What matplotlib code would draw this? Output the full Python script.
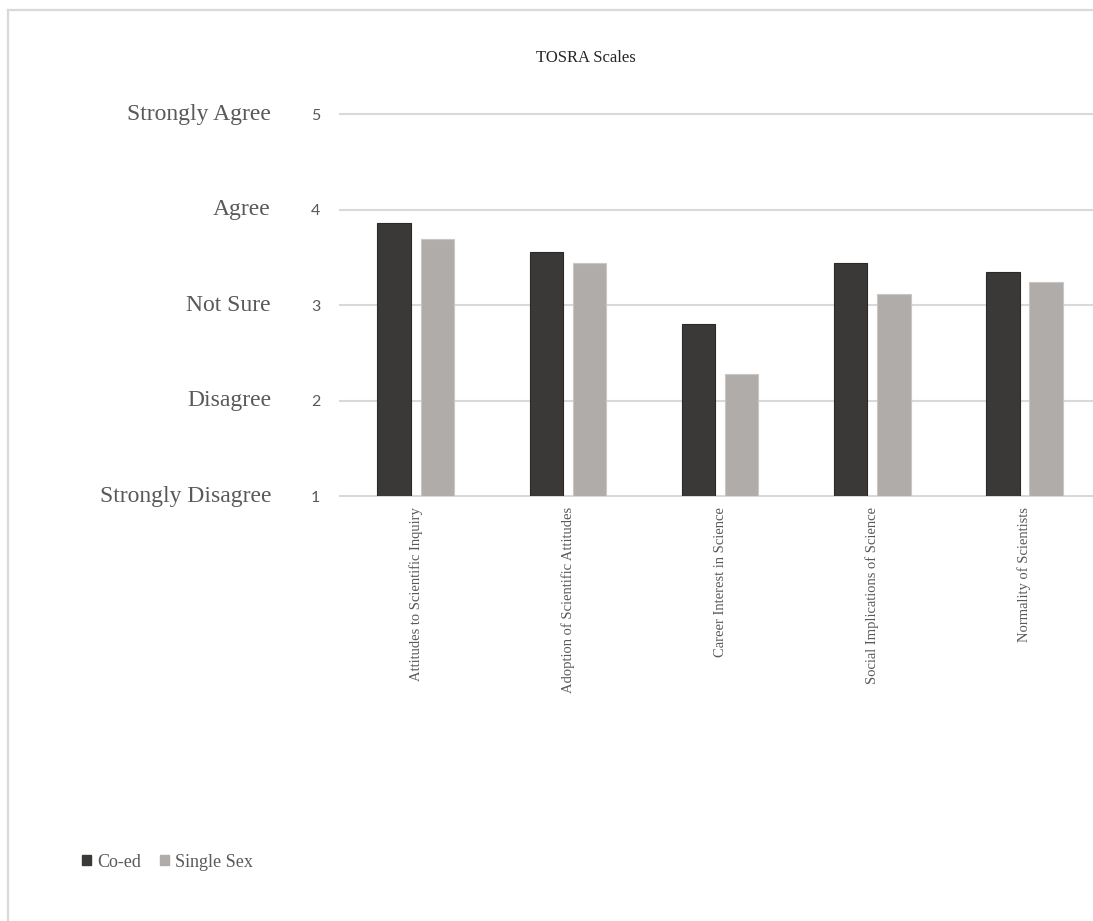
import matplotlib
matplotlib.use("Agg")
import matplotlib.pyplot as plt
import numpy as np
from matplotlib.patches import Rectangle
from matplotlib.lines import Line2D

# TOSRA scale means by school type
scales = [
    "Attitudes to Scientific Inquiry",
    "Adoption of Scientific Attitudes",
    "Career Interest in Science",
    "Social Implications of Science",
    "Normality of Scientists",
]
coed = [3.86, 3.56, 2.80, 3.44, 3.35]
single_sex = [3.69, 3.44, 2.28, 3.11, 3.24]
series_names = ["Co-ed", "Single Sex"]

y_ticks = [1, 2, 3, 4, 5]
y_labels = ["Strongly Disagree", "Disagree", "Not Sure", "Agree", "Strongly Agree"]

COED_COLOR = "#3a3937"
SINGLE_COLOR = "#afacaa"
TEXT_GRAY = "#595959"
GRID_GRAY = "#d9d9d9"
SERIF = "Liberation Serif"

W, H = 1093, 921
fig = plt.figure(figsize=(W / 100, H / 100), dpi=100)

# chart-area frame (top and left edges visible)
fig.add_artist(Line2D([8 / W, 8 / W], [0, 1 - 10 / H], color=GRID_GRAY, lw=1.6,
                      transform=fig.transFigure))
fig.add_artist(Line2D([8 / W, 1], [1 - 10 / H, 1 - 10 / H], color=GRID_GRAY, lw=1.6,
                      transform=fig.transFigure))

left_px, right_px = 339.7, 1100.6
bottom_px, top_px = 496, 114
ax = fig.add_axes([left_px / W, 1 - bottom_px / H,
                   (right_px - left_px) / W, (bottom_px - top_px) / H])

x = np.arange(len(scales))
bw = 0.22
off = 0.142
ax.bar(x - off, coed, bw, bottom=0, color=COED_COLOR, edgecolor="#2a2928",
       linewidth=0.8, zorder=3, label=series_names[0])
ax.bar(x + off, single_sex, bw, bottom=0, color=SINGLE_COLOR, edgecolor="#c9c6c4",
       linewidth=0.8, zorder=3, label=series_names[1])

ax.set_xlim(-0.5, len(scales) - 0.5)
ax.set_ylim(1, 5)
ax.set_yticks(y_ticks)
ax.set_yticklabels([str(v) for v in y_ticks], family="Lato", fontsize=11.5,
                   color=TEXT_GRAY)
ax.tick_params(axis="y", length=0, pad=14)
ax.set_xticks(x)
ax.set_xticklabels(scales, rotation=90, family=SERIF, fontsize=10.5,
                   color=TEXT_GRAY, va="top", ha="center")
ax.tick_params(axis="x", length=0, pad=8)

ax.grid(axis="y", color=GRID_GRAY, linewidth=1.5, zorder=0)
for s in ax.spines.values():
    s.set_visible(False)
ax.set_axisbelow(True)
for ln in ax.get_ygridlines():
    ln.set_clip_on(False)

# verbal anchors of the Likert scale
for v, lab in zip(y_ticks, y_labels):
    ax.annotate(lab, xy=(0, v), xycoords=("axes fraction", "data"),
                xytext=(-(left_px - 271) * 0.72, 0), textcoords="offset points",
                ha="right", va="center", family=SERIF, fontsize=17,
                color=TEXT_GRAY)

fig.text(586 / W, 1 - 58 / H, "TOSRA Scales", ha="center", va="center",
         family=SERIF, fontsize=12, color="#262626")

# legend at the bottom left
handles = [Rectangle((0, 0), 1, 1, color=COED_COLOR),
           Rectangle((0, 0), 1, 1, color=SINGLE_COLOR)]
leg = fig.legend(handles, series_names, loc="center left",
                 bbox_to_anchor=(66 / W, 1 - 862 / H), ncol=2, frameon=False,
                 handlelength=0.5, handleheight=0.5, handletextpad=0.35,
                 columnspacing=1.0, prop={"family": SERIF, "size": 13})
for t in leg.get_texts():
    t.set_color(TEXT_GRAY)

fig.savefig("out.png", dpi=100)
